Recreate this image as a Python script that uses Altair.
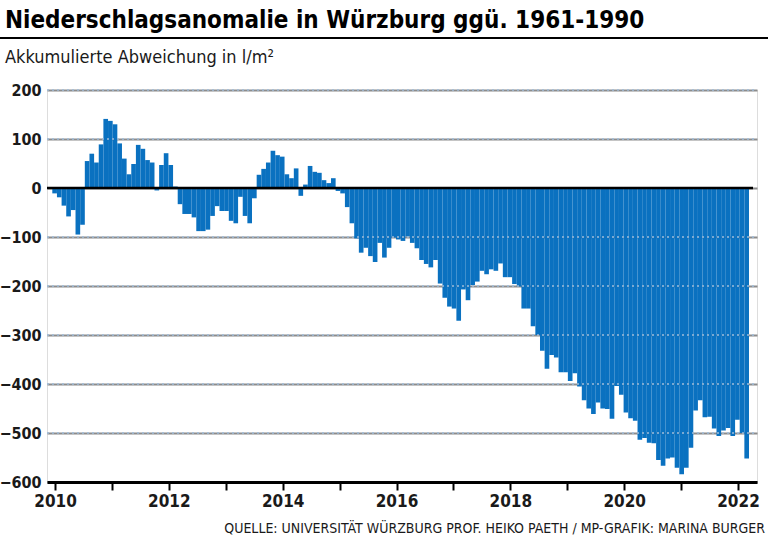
import altair as alt
import pandas as pd

TITLE = "Niederschlagsanomalie in Würzburg ggü. 1961-1990"
SUBTITLE = "Akkumulierte Abweichung in l/m²"
SOURCE = "QUELLE: UNIVERSITÄT WÜRZBURG PROF. HEIKO PAETH / MP-GRAFIK: MARINA BURGER"

# accumulated anomaly (l/m²), one bar per month
anomaly_a = [-11, -19, -36, -58, -45, -95, -75, 55, 70, 52, 89, 141, 137, 130, 91,
             60, 28, 49, 88, 80, 57, 52, -5, 47, 71, 47, 3]
anomaly_b = [-33, -53, -53, -60, -88, -88, -85, -57, -37, -47, -47, -67, -72, -18,
             -57, -72, -21]
anomaly_c = [27, 39, 52, 76, 67, 64, 28, 20, 40, -16, 7, 45, 33, 31, 16, 10, 20, -6]
anomaly_d = [-11, -39, -72, -103, -132, -122, -139, -151, -112, -142, -122, -101,
             -105, -108, -99, -112, -123, -147, -155, -162, -147, -195, -224, -242,
             -246, -271, -207, -229, -198, -191, -169, -176, -166, -169, -154, -182, -182]
anomaly_e = [-196, -201, -246, -246, -282, -300, -332, -369, -341, -346, -376, -376,
             -394, -378, -405, -433, -450, -461, -438, -450, -451, -471, -404, -422,
             -458, -470, -475, -514, -510, -520, -521, -555]
anomaly_f = [-567, -552, -550, -571, -584, -571, -530, -454, -433, -468, -467, -491,
             -506, -495, -490, -506, -473, -500, -552]
anomaly = anomaly_a + anomaly_b + anomaly_c + anomaly_d + anomaly_e + anomaly_f

year_ticks = list(range(2010, 2023))
y_ticks = [-600, -500, -400, -300, -200, -100, 0, 100, 200]
grid_values = [-500, -400, -300, -200, -100, 100, 200]

W, H = 710, 392
FONT = "DejaVu Sans Condensed, Roboto, sans-serif"
BLUE = "#0a71c0"

bars_df = pd.DataFrame({"monat": list(range(len(anomaly))), "abweichung": anomaly})
years_df = pd.DataFrame({"jahr": year_ticks})
grid_df = pd.DataFrame({"wert": grid_values})
zero_df = pd.DataFrame({"wert": [0]})

yscale = alt.Scale(domain=[-600, 200], nice=False, zero=False)

axis_layer = alt.Chart(years_df).mark_tick(opacity=0).encode(
    x=alt.X("jahr:Q",
            scale=alt.Scale(domain=[2009.859, 2022.334], nice=False, zero=False),
            axis=alt.Axis(values=year_ticks, format="d",
                          labelExpr="datum.value % 2 == 0 ? datum.label : ''",
                          title=None, grid=False, domainColor="black", domainWidth=3,
                          tickColor="black", tickWidth=2, tickSize=8,
                          labelFontSize=17, labelFont=FONT, labelColor="#1a1a1a",
                          labelPadding=3, labelFontWeight="bold")),
)

bars = alt.Chart(bars_df).transform_calculate(
    m0="datum.monat - 0.5", m1="datum.monat + 0.5"
).mark_bar(color=BLUE).encode(
    x=alt.X("m0:Q", scale=alt.Scale(domain=[-1.641, 151.22], nice=False, zero=False), axis=None),
    x2="m1:Q",
    y=alt.Y("abweichung:Q", scale=yscale,
            axis=alt.Axis(values=y_ticks, title=None, domain=False, ticks=False,
                          grid=True, gridColor="#8c8c8c", gridWidth=2,
                          labelFontSize=16, labelFont=FONT, labelColor="#1a1a1a",
                          labelPadding=6, labelFontWeight="bold")),
    y2=alt.datum(0),
)

overlay = alt.Chart(grid_df).mark_rule(color="#9fbcd9", strokeDash=[2, 3], strokeWidth=1.5).encode(
    y=alt.Y("wert:Q", scale=yscale), x=alt.value(0), x2=alt.value(W)
)

zero_line = alt.Chart(zero_df).mark_rule(color="black", strokeWidth=2.5).encode(
    y=alt.Y("wert:Q", scale=yscale), x=alt.value(0), x2=alt.value(W - 4)
)

title = alt.Chart(pd.DataFrame({"t": [TITLE]})).mark_text(
    align="left", baseline="alphabetic", fontSize=24, fontWeight="bold", font=FONT, color="black"
).encode(text="t:N", x=alt.value(-42), y=alt.value(-62))

sep = alt.Chart(pd.DataFrame({"t": [0]})).mark_rule(color="black", strokeWidth=2).encode(
    x=alt.value(-47), x2=alt.value(721), y=alt.value(-52)
)

subtitle = alt.Chart(pd.DataFrame({"t": [SUBTITLE]})).mark_text(
    align="left", baseline="middle", fontSize=18, font=FONT, color="#1a1a1a"
).encode(text="t:N", x=alt.value(-42), y=alt.value(-32))

source = alt.Chart(pd.DataFrame({"t": [SOURCE]})).mark_text(
    align="right", baseline="alphabetic", fontSize=14, font=FONT, color="#1a1a1a"
).encode(text="t:N", x=alt.value(718), y=alt.value(443))

chart = alt.layer(
    axis_layer, bars, overlay, zero_line, title, sep, subtitle, source
).resolve_scale(x="independent").properties(
    width=W, height=H,
    padding={"left": 47, "top": 90, "right": 11, "bottom": 59},
    autosize="none",
).configure_view(stroke=None).configure(background="white")

chart.save("out.html", embed_options={"renderer": "svg", "actions": False})
